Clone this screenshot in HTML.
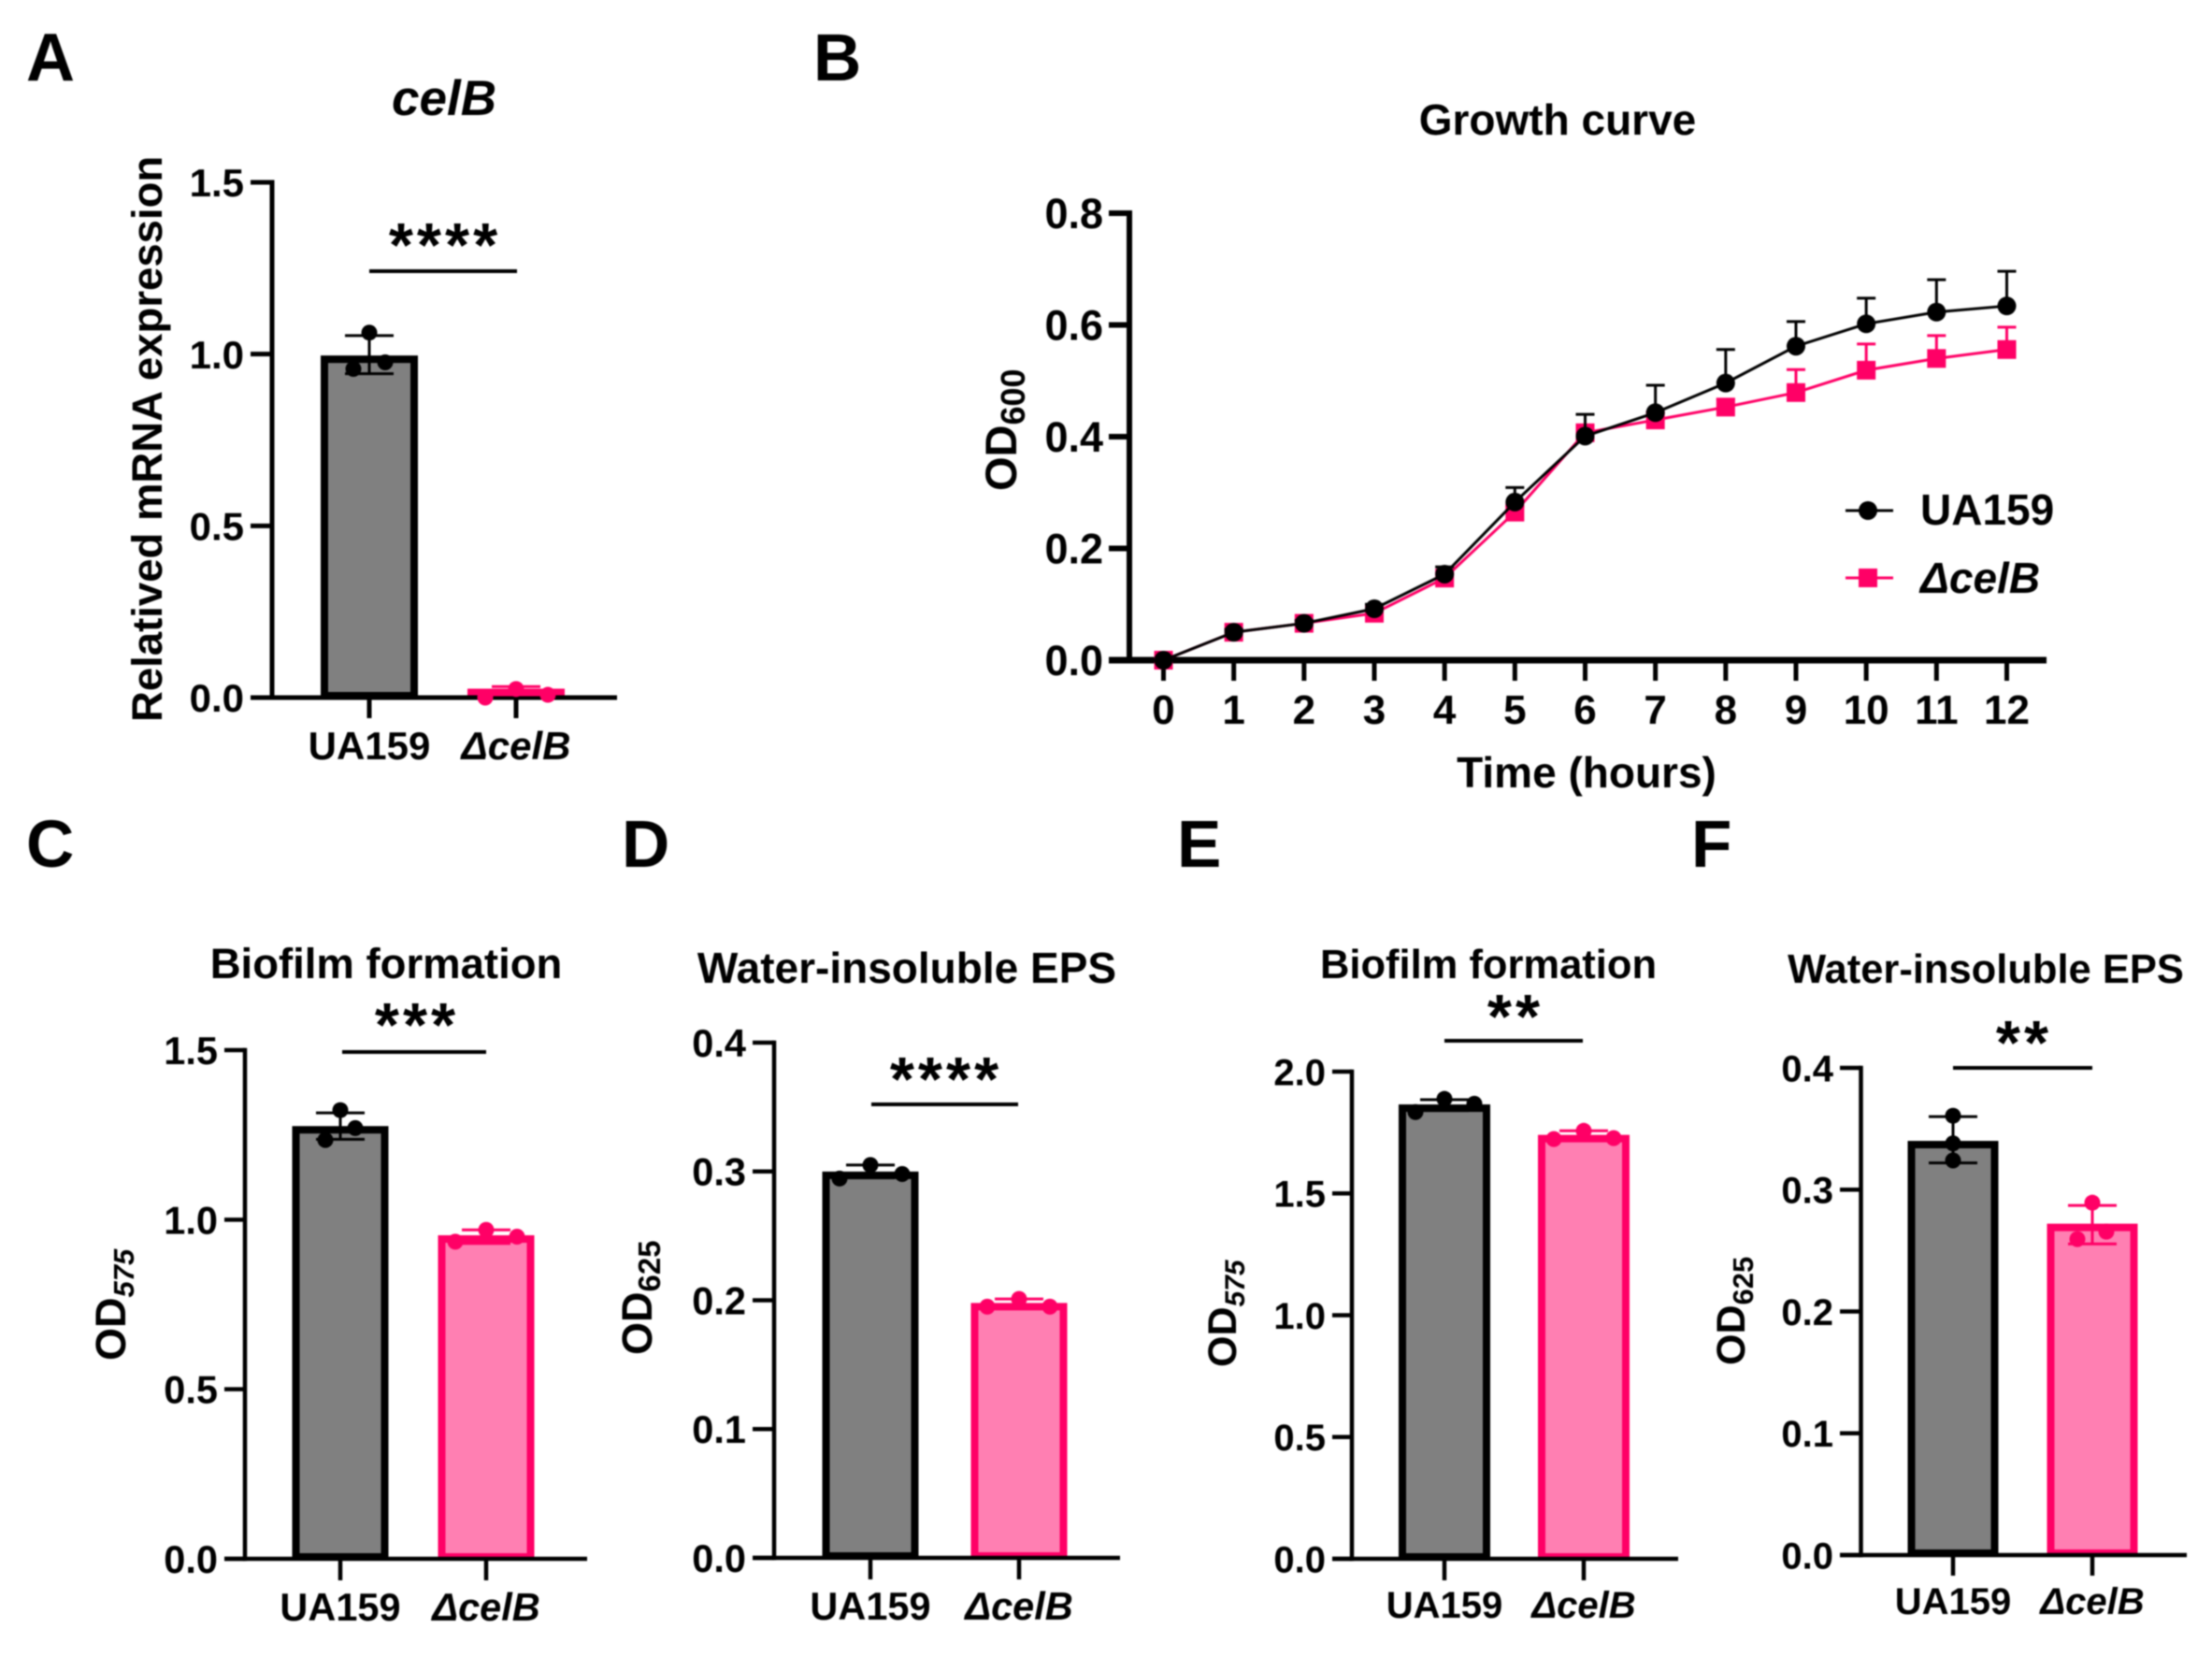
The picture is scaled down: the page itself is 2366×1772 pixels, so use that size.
<!DOCTYPE html>
<html lang="en">
<head>
<meta charset="utf-8">
<title>celB figure panels</title>
<style>
html,body{margin:0;padding:0;background:#fff}
svg{display:block;font-family:"Liberation Sans",Arial,sans-serif;font-weight:bold;fill:#000;filter:blur(0.7px)}
</style>
</head>
<body>
<svg id="figure" width="2366" height="1772" viewBox="0 0 2366 1772" xmlns="http://www.w3.org/2000/svg">
<rect width="2366" height="1772" fill="#fff"/>

<text x="28" y="86" font-size="72">A</text>
<text x="870" y="86" font-size="71">B</text>
<text x="28" y="927" font-size="71">C</text>
<text x="665" y="927" font-size="71">D</text>
<text x="1259" y="927" font-size="71">E</text>
<text x="1809" y="927" font-size="71">F</text>

<text x="475" y="123" font-size="53" font-style="italic" text-anchor="middle">celB</text>
<text x="1666" y="144" font-size="46" text-anchor="middle">Growth curve</text>
<text x="413" y="1046" font-size="45.5" text-anchor="middle">Biofilm formation</text>
<text x="970" y="1051" font-size="46" text-anchor="middle">Water-insoluble EPS</text>
<text x="1592" y="1046" font-size="43.5" text-anchor="middle">Biofilm formation</text>
<text x="2124" y="1051" font-size="43.5" text-anchor="middle">Water-insoluble EPS</text>

<text transform="translate(173,772) rotate(-90)" font-size="45.5">Relatived mRNA expression</text>
<text transform="translate(1087,525) rotate(-90)" font-size="47">OD<tspan font-size="36" dy="9">600</tspan></text>
<text transform="translate(134,1455) rotate(-90)" font-size="45">OD<tspan font-size="31" dy="9" font-style="italic">575</tspan></text>
<text transform="translate(697,1449) rotate(-90)" font-size="45">OD<tspan font-size="33" dy="9">625</tspan></text>
<text transform="translate(1322,1462) rotate(-90)" font-size="43">OD<tspan font-size="30" dy="9" font-style="italic">575</tspan></text>
<text transform="translate(1866,1460) rotate(-90)" font-size="43">OD<tspan font-size="31" dy="9">625</tspan></text>

<text x="1697" y="842" font-size="46" text-anchor="middle">Time (hours)</text>

<line x1="395" x2="553" y1="290" y2="290" stroke="#000" stroke-width="4"/>
<text x="476" y="285" font-size="67" letter-spacing="4" text-anchor="middle">****</text>
<line x1="366" x2="520" y1="1125" y2="1125" stroke="#000" stroke-width="4"/>
<text x="446" y="1119" font-size="67" letter-spacing="4" text-anchor="middle">***</text>
<line x1="932" x2="1089" y1="1181" y2="1181" stroke="#000" stroke-width="4"/>
<text x="1012" y="1177" font-size="67" letter-spacing="4" text-anchor="middle">****</text>
<line x1="1545" x2="1693" y1="1113" y2="1113" stroke="#000" stroke-width="4"/>
<text x="1621" y="1110" font-size="67" letter-spacing="4" text-anchor="middle">**</text>
<line x1="2089" x2="2238" y1="1142" y2="1142" stroke="#000" stroke-width="4"/>
<text x="2165" y="1138" font-size="67" letter-spacing="4" text-anchor="middle">**</text>

<g id="plots"></g>

<g>
  <line x1="1974" x2="2025" y1="546" y2="546" stroke="#000" stroke-width="3"/>
  <circle cx="1998" cy="546" r="10" fill="#000"/>
  <text x="2054" y="561" font-size="46">UA159</text>
  <line x1="1974" x2="2025" y1="618" y2="618" stroke="#ff0066" stroke-width="3"/>
  <rect x="1988" y="608" width="20" height="20" fill="#ff0066"/>
  <text x="2054" y="634" font-size="46" font-style="italic">ΔcelB</text>
</g>
</svg>

<script>
// ---- shared categories ----
const barCategories = ['UA159', 'ΔcelB'];

// ---- panel A values ----
const aTicks = ['0.0', '0.5', '1.0', '1.5'];
const aMeans = [0.985, 0.015];
const aErrLow = [0.943, 0.008];
const aErrHigh = [1.054, 0.032];
const aDotsWt = [0.957, 1.0625, 0.976];
const aDotsMut = [0.0, 0.025, 0.008];

// ---- panel C values ----
const cTicks = ['0.0', '0.5', '1.0', '1.5'];
const cMeans = [1.265, 0.943];
const cErrLow = [1.237, 0.93];
const cErrHigh = [1.315, 0.97];
const cDotsWt = [1.235, 1.323, 1.27];
const cDotsMut = [0.935, 0.97, 0.95];

// ---- panel D values ----
const dTicks = ['0.0', '0.1', '0.2', '0.3', '0.4'];
const dMeans = [0.297, 0.195];
const dErrLow = [0.295, 0.195];
const dErrHigh = [0.305, 0.201];
const dDotsWt = [0.2945, 0.305, 0.298];
const dDotsMut = [0.195, 0.201, 0.195];

// ---- panel E values ----
const eTicks = ['0.0', '0.5', '1.0', '1.5', '2.0'];
const eMeans = [1.85, 1.725];
const eErrLow = [1.84, 1.72];
const eErrHigh = [1.885, 1.757];
const eDotsWt = [1.834, 1.888, 1.868];
const eDotsMut = [1.723, 1.757, 1.727];

// ---- panel F values ----
const fTicks = ['0.0', '0.1', '0.2', '0.3', '0.4'];
const fMeans = [0.337, 0.269];
const fErrLow = [0.322, 0.2555];
const fErrHigh = [0.36, 0.287];
const fDotsWt = [0.324, 0.3607, 0.338];
const fDotsMut = [0.2594, 0.2893, 0.2655];

// ---- panel B values ----
const hours = [0, 1, 2, 3, 4, 5, 6, 7, 8, 9, 10, 11, 12];
const bTicksY = ['0.0', '0.2', '0.4', '0.6', '0.8'];
const wtGrowth = [0, 0.05, 0.066, 0.092, 0.154, 0.283, 0.401, 0.443, 0.496, 0.562, 0.602, 0.623, 0.634];
const wtSd = [0, 0.005, 0.005, 0.008, 0.013, 0.026, 0.039, 0.049, 0.06, 0.044, 0.046, 0.058, 0.062];
const mutGrowth = [0, 0.05, 0.066, 0.084, 0.147, 0.265, 0.407, 0.43, 0.453, 0.479, 0.519, 0.54, 0.556];
const mutSd = [0, 0.005, 0.005, 0.006, 0.008, 0.01, 0.012, 0.012, 0.014, 0.041, 0.047, 0.041, 0.04];

const BLACK = '#000';
const PINK = '#ff0066';
const GREY = '#808080';
const PINK_FILL = '#ff7fb2';
const NS = 'http://www.w3.org/2000/svg';
const plotsRoot = document.getElementById('plots');

function make(tag, parent, attrs, text) {
  const node = document.createElementNS(NS, tag);
  for (const key in attrs) node.setAttribute(key, attrs[key]);
  if (text !== undefined) node.textContent = text;
  parent.appendChild(node);
  return node;
}

function axisTick(parent, x1, y1, x2, y2, width, name) {
  const el = make('line', parent, { x1: x1, y1: y1, x2: x2, y2: y2, stroke: BLACK, 'stroke-width': width });
  
  
  return el;
}

function tickLabel(parent, x, y, size, anchor, style, text, name) {
  const el = make('text', parent, { x: x, y: y, 'font-size': size, 'text-anchor': anchor, 'font-style': style }, text);
  
  
  return el;
}

function drawBarPanel(p) {
  const g = make('g', plotsRoot, {});
  
  

  const maxVal = parseFloat(p.ticks[p.ticks.length - 1]);
  const yScale = v => p.y0 - (v / maxVal) * (p.y0 - p.yTop);
  const xScale = i => p.centers[i];

  // bars
  p.means.forEach((v, i) => {
    const inset = p.barW / 2 - p.barStroke / 2;
    const bottom = p.y0 - p.barStroke / 2 + 2;
    const el = make('rect', g, {
      x: xScale(i) - inset,
      y: Math.min(yScale(v), bottom),
      width: inset * 2,
      height: Math.max(0, bottom - yScale(v)),
      fill: i === 0 ? GREY : PINK_FILL,
      stroke: i === 0 ? BLACK : PINK,
      'stroke-width': p.barStroke
    });
    
    
  });

  // axes
  axisTick(g, p.axisX, p.yTop - p.axisW / 2, p.axisX, p.y0 + p.axisW / 2, p.axisW, 'y-axis-' + p.id);
  axisTick(g, p.tickLeft, p.y0, p.xEnd, p.y0, p.axisW, 'x-axis-' + p.id);

  // y ticks
  p.ticks.forEach(t => {
    const y = yScale(parseFloat(t));
    axisTick(g, p.tickLeft, y, p.axisX, y, p.axisW, 'y-tick-' + p.id + '-' + t);
    tickLabel(g, p.tickLeft - 7, y + p.fontSize * 0.36, p.fontSize, 'end', 'normal', t, 'y-tick-label-' + p.id + '-' + t);
  });

  // x ticks + category labels
  barCategories.forEach((c, i) => {
    axisTick(g, xScale(i), p.y0, xScale(i), p.tickBottom, p.axisW, 'x-tick-' + p.id + '-' + i);
    tickLabel(g, xScale(i), p.labelY, p.fontSize, 'middle', i === 0 ? 'normal' : 'italic', c, 'x-tick-label-' + p.id + '-' + i);
  });

  // error bars and replicate dots
  [p.dotsWt, p.dotsMut].forEach((dots, i) => {
    const color = i === 0 ? BLACK : PINK;
    const cx = xScale(i);
    const yHi = yScale(p.errHigh[i]);
    const yLo = yScale(p.errLow[i]);
    const stem = make('line', g, { x1: cx, x2: cx, y1: yHi, y2: yLo, stroke: color, 'stroke-width': 3 });
    
    
    const capTop = make('line', g, { x1: cx - 26, x2: cx + 26, y1: yHi, y2: yHi, stroke: color, 'stroke-width': 3 });
    
    
    const capBottom = make('line', g, { x1: cx - 26, x2: cx + 26, y1: yLo, y2: yLo, stroke: color, 'stroke-width': 3 });
    
    
    dots.forEach((v, k) => {
      const dot = make('circle', g, { cx: cx + p.dotOffsets[i][k], cy: yScale(v), r: 8.5, fill: color });
      
      
    });
  });
}

function drawGrowthPanel() {
  const g = make('g', plotsRoot, {});
  
  

  const x0 = 1244.5, xStep = (2146.5 - 1244.5) / (hours[hours.length - 1] - hours[0]);
  const y0 = 706, yTop = 228, maxVal = parseFloat(bTicksY[bTicksY.length - 1]);
  const xScale = h => x0 + (h - hours[0]) * xStep;
  const yScale = v => y0 - (v / maxVal) * (y0 - yTop);

  axisTick(g, 1208, yTop - 3, 1208, y0 + 3, 6, 'y-axis-b');
  axisTick(g, 1186, y0, 2189, y0, 7, 'x-axis-b');
  bTicksY.forEach(t => {
    const y = yScale(parseFloat(t));
    axisTick(g, 1186, y, 1208, y, 6, 'y-tick-b-' + t);
    tickLabel(g, 1180, y + 16, 45, 'end', 'normal', t, 'y-tick-label-b-' + t);
  });
  hours.forEach(h => {
    axisTick(g, xScale(h), y0, xScale(h), 728, 5, 'x-tick-b-' + h);
    tickLabel(g, xScale(h), 774, 44, 'middle', 'normal', String(h), 'x-tick-label-b-' + h);
  });

  [[mutGrowth, mutSd, PINK, 'celb'], [wtGrowth, wtSd, BLACK, 'ua159']].forEach(s => {
    const vals = s[0], sds = s[1], color = s[2], key = s[3];
    hours.forEach((h, i) => {
      const yHi = yScale(vals[i] + sds[i]);
      const stem = make('line', g, { x1: xScale(h), x2: xScale(h), y1: yScale(vals[i]), y2: yHi, stroke: color, 'stroke-width': 3 });
      
      
      const cap = make('line', g, { x1: xScale(h) - 10, x2: xScale(h) + 10, y1: yHi, y2: yHi, stroke: color, 'stroke-width': 3 });
      
      
    });
    const pts = hours.map((h, i) => xScale(h) + ',' + yScale(vals[i])).join(' ');
    const line = make('polyline', g, { points: pts, fill: 'none', stroke: color, 'stroke-width': 3 });
    
    
    hours.forEach((h, i) => {
      if (key === 'ua159') {
        const m = make('circle', g, { cx: xScale(h), cy: yScale(vals[i]), r: 10, fill: color });
        
        
      } else {
        const m = make('rect', g, { x: xScale(h) - 10, y: yScale(vals[i]) - 10, width: 20, height: 20, fill: color });
        
        
      }
    });
  });
}

drawBarPanel({ id: 'a', ticks: aTicks, means: aMeans, errLow: aErrLow, errHigh: aErrHigh, dotsWt: aDotsWt, dotsMut: aDotsMut,
  y0: 746, yTop: 195, axisX: 291, axisW: 5, tickLeft: 268, xEnd: 660, tickBottom: 768, labelY: 812, fontSize: 42,
  centers: [395, 552], barW: 104, barStroke: 8, dotOffsets: [[-17, 0, 17], [-33, 0, 34]] });
drawBarPanel({ id: 'c', ticks: cTicks, means: cMeans, errLow: cErrLow, errHigh: cErrHigh, dotsWt: cDotsWt, dotsMut: cDotsMut,
  y0: 1667, yTop: 1123, axisX: 262, axisW: 4.5, tickLeft: 240, xEnd: 628, tickBottom: 1690, labelY: 1733, fontSize: 41.5,
  centers: [364, 520], barW: 103, barStroke: 8, dotOffsets: [[-16, 0, 16], [-33, 0, 33]] });
drawBarPanel({ id: 'd', ticks: dTicks, means: dMeans, errLow: dErrLow, errHigh: dErrHigh, dotsWt: dDotsWt, dotsMut: dDotsMut,
  y0: 1666, yTop: 1115, axisX: 828, axisW: 4.5, tickLeft: 805, xEnd: 1198, tickBottom: 1689, labelY: 1732, fontSize: 41.5,
  centers: [931, 1090], barW: 103, barStroke: 8, dotOffsets: [[-33, 0, 34], [-34, 0, 33]] });
drawBarPanel({ id: 'e', ticks: eTicks, means: eMeans, errLow: eErrLow, errHigh: eErrHigh, dotsWt: eDotsWt, dotsMut: eDotsMut,
  y0: 1667, yTop: 1146, axisX: 1446, axisW: 4.5, tickLeft: 1425, xEnd: 1795, tickBottom: 1690, labelY: 1730, fontSize: 40,
  centers: [1545, 1694], barW: 98, barStroke: 8, dotOffsets: [[-31, 0, 32], [-32, 0, 32]] });
drawBarPanel({ id: 'f', ticks: fTicks, means: fMeans, errLow: fErrLow, errHigh: fErrHigh, dotsWt: fDotsWt, dotsMut: fDotsMut,
  y0: 1663, yTop: 1142, axisX: 1990.5, axisW: 4.5, tickLeft: 1968, xEnd: 2339, tickBottom: 1685, labelY: 1726, fontSize: 40,
  centers: [2089, 2238], barW: 97, barStroke: 8, dotOffsets: [[0, 0, 0], [-16, 0, 15]] });
drawGrowthPanel();
</script>
</body>
</html>
